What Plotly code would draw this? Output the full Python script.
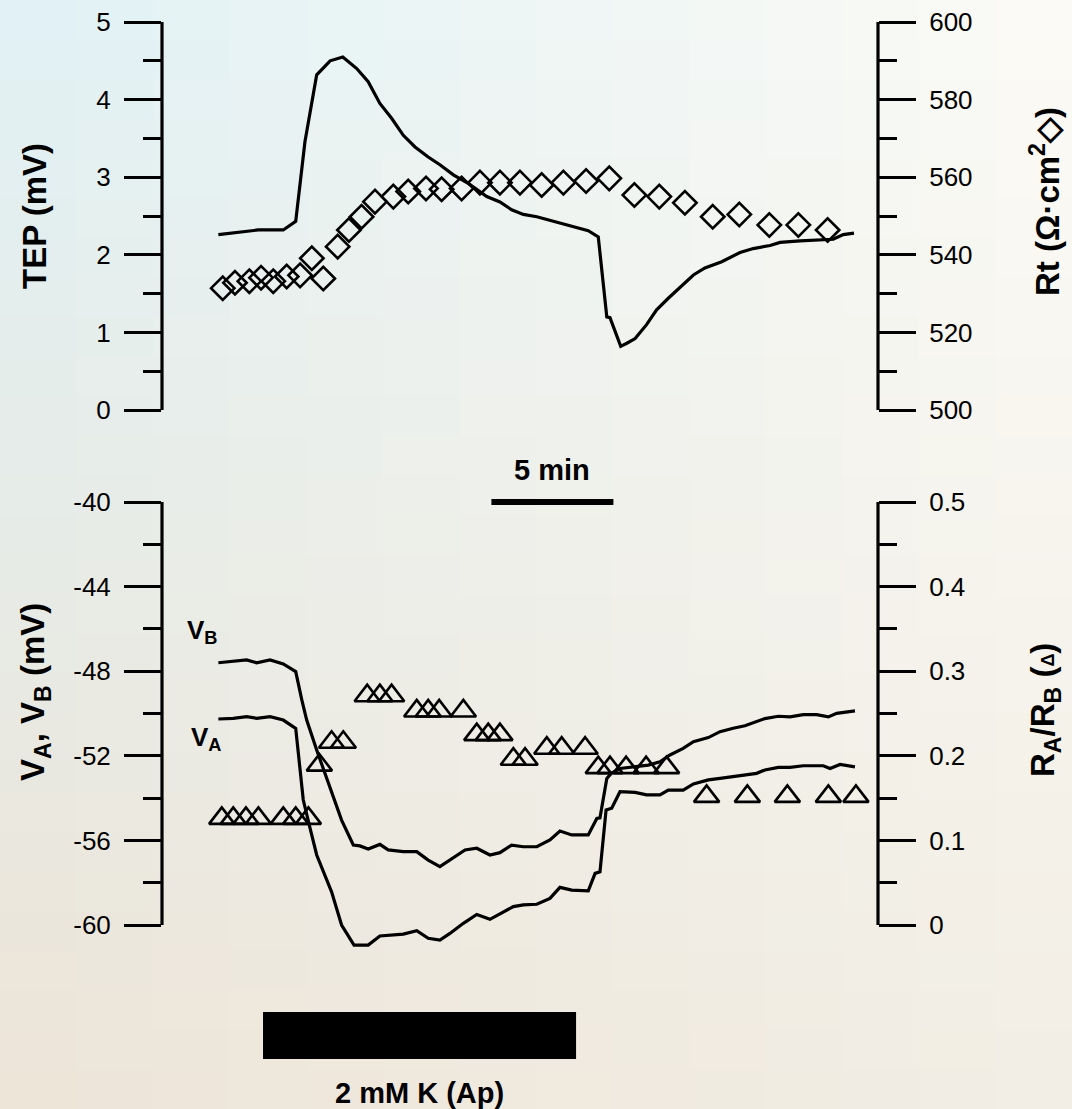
import plotly.graph_objects as go

# ---------------- data (time in minutes) ----------------
tep_t = [2.31, 2.86, 3.95, 4.97, 5.48, 5.86, 6.34, 6.89, 7.41, 7.98, 8.45, 8.93, 9.41, 9.89, 10.37,
         10.91, 11.39, 11.94, 12.55, 13.31, 13.85, 14.33, 14.81, 15.36, 16.38, 17.00, 17.47, 17.88,
         18.23, 18.36, 18.80, 19.05, 19.39, 19.86, 20.27, 20.75, 21.30, 21.78, 22.25, 22.94, 23.69,
         24.23, 24.92, 25.33, 26.15, 27.51, 27.92, 28.36]
tep_v = [2.26, 2.28, 2.32, 2.32, 2.43, 3.46, 4.32, 4.50, 4.55, 4.40, 4.23, 3.95, 3.76, 3.54, 3.39,
         3.26, 3.16, 3.03, 2.92, 2.75, 2.68, 2.58, 2.52, 2.49, 2.40, 2.35, 2.31, 2.23,
         1.20, 1.19, 0.82, 0.86, 0.92, 1.10, 1.29, 1.44, 1.60, 1.74, 1.83, 1.91, 2.03,
         2.08, 2.12, 2.16, 2.18, 2.20, 2.26, 2.28]

rt_t = [2.49, 2.99, 3.58, 4.06, 4.56, 5.11, 5.66, 6.14, 6.61, 7.20, 7.66, 8.18, 8.73, 9.48, 10.09,
        10.82, 11.46, 12.28, 13.03, 13.85, 14.67, 15.56, 16.45, 17.38, 18.33, 19.36, 20.38, 21.43,
        22.57, 23.66, 24.89, 26.08, 27.28]
rt_v = [531.4, 532.8, 533.2, 534.1, 533.2, 534.4, 534.7, 539.1, 533.9, 542.1, 546.4, 549.8, 553.7,
        555.0, 556.3, 557.1, 556.9, 557.1, 558.6, 558.6, 558.6, 558.0, 558.6, 559.0, 559.7, 555.4,
        555.0, 553.4, 549.8, 550.4, 547.7, 547.7, 546.4]

vb_t = [2.31, 2.92, 3.47, 3.88, 4.43, 4.97, 5.48, 5.73, 5.93, 6.34, 6.89, 7.36, 7.84, 8.11, 8.45,
        8.93, 9.27, 9.89, 10.44, 10.91, 11.39, 11.80, 12.42, 12.90, 13.44, 13.85, 14.33, 14.81,
        15.36, 15.90, 16.31, 16.79, 17.47, 17.82, 17.95, 18.23, 18.43, 18.77, 19.46, 19.93, 20.41,
        20.82, 21.36, 21.78, 22.39, 22.87, 23.41, 23.89, 24.71, 25.26, 25.74, 26.28, 26.83, 27.31,
        27.65, 28.06, 28.40]
vb_v = [-47.60, -47.55, -47.47, -47.60, -47.47, -47.66, -48.02, -49.36, -50.31, -51.73, -53.46,
        -55.04, -56.22, -56.26, -56.41, -56.19, -56.45, -56.53, -56.53, -56.93, -57.24, -56.93,
        -56.45, -56.37, -56.69, -56.58, -56.22, -56.30, -56.30, -55.98, -55.56, -55.74, -55.74,
        -54.96, -54.93, -53.07, -52.81, -52.60, -52.52, -52.44, -52.28, -51.96, -51.65, -51.33,
        -51.14, -50.86, -50.70, -50.58, -50.24, -50.13, -50.16, -50.05, -50.05, -50.16, -49.99,
        -49.91, -49.88]

va_t = [2.31, 2.92, 3.47, 3.88, 4.43, 4.97, 5.48, 5.66, 5.79, 6.07, 6.34, 6.95, 7.36, 7.87, 8.45,
        8.93, 9.89, 10.44, 10.91, 11.39, 11.80, 12.35, 12.90, 13.44, 13.92, 14.40, 14.81, 15.36,
        15.90, 16.31, 16.79, 17.47, 17.75, 17.95, 18.20, 18.43, 18.77, 19.39, 19.86, 20.41, 20.75,
        21.36, 21.78, 22.39, 22.87, 23.89, 24.37, 24.71, 25.26, 25.74, 26.28, 27.10, 27.38, 27.79,
        28.40]
va_v = [-50.26, -50.23, -50.15, -50.23, -50.15, -50.31, -50.70, -52.67, -54.09, -55.43, -56.69,
        -58.43, -60.00, -60.95, -60.95, -60.52, -60.43, -60.27, -60.63, -60.71, -60.40, -59.92,
        -59.50, -59.73, -59.45, -59.13, -59.05, -59.02, -58.74, -58.22, -58.35, -58.38, -57.56,
        -57.48, -54.56, -54.48, -53.70, -53.73, -53.85, -53.85, -53.62, -53.62, -53.33, -53.14,
        -53.07, -52.91, -52.83, -52.67, -52.55, -52.55, -52.47, -52.47, -52.60, -52.41, -52.52]

ratio_t = [2.45, 2.92, 3.44, 3.95, 4.97, 5.48, 6.00, 6.45, 6.95, 7.43, 8.41, 8.93, 9.41, 10.44,
           10.91, 11.36, 12.35, 12.90, 13.37, 13.85, 14.40, 14.88, 15.77, 16.38, 17.34, 17.88,
           18.36, 19.02, 19.84, 20.68, 22.32, 23.99, 25.63, 27.31, 28.44]
ratio_v = [0.126, 0.126, 0.126, 0.126, 0.126, 0.126, 0.126, 0.189, 0.216, 0.216, 0.271, 0.271,
           0.271, 0.253, 0.253, 0.253, 0.253, 0.225, 0.225, 0.225, 0.196, 0.196, 0.209, 0.209,
           0.209, 0.186, 0.186, 0.186, 0.186, 0.186, 0.152, 0.152, 0.152, 0.152, 0.152]

tep_ticks = [0, 1, 2, 3, 4, 5]
tep_ticktext = ["0", "1", "2", "3", "4", "5"]
rt_ticks = [500, 520, 540, 560, 580, 600]
rt_ticktext = ["500", "520", "540", "560", "580", "600"]
v_ticks = [-60, -56, -52, -48, -44, -40]
v_ticktext = ["-60", "-56", "-52", "-48", "-44", "-40"]
ratio_ticks = [0, 0.1, 0.2, 0.3, 0.4, 0.5]
ratio_ticktext = ["0", "0.1", "0.2", "0.3", "0.4", "0.5"]

k_start, k_end = 4.14, 16.97          # 2 mM K (Ap) application, min
scale_start, scale_len = 13.5, 5.0    # 5 min scale bar

# ---------------- figure ----------------
W, H = 1072, 1109
FONT = "Liberation Sans, Arial, sans-serif"
X0, X1 = 162 / W, 878 / W
TOP = [(H - 410) / H, (H - 22) / H]
# bottom panel: plot area extended below -60 so the V_A trace is not clipped
V_EXT = 1.5
PX_PER_MV = (925 - 502) / 20
BOT = [(H - (925 + V_EXT * PX_PER_MV)) / H, (H - 502) / H]
XR = [0, 716 / 24.4]
LW = 3.2

fig = go.Figure()
line = dict(color="black", width=3.2)
fig.add_trace(go.Scatter(x=tep_t, y=tep_v, mode="lines", line=line, xaxis="x", yaxis="y",
                         showlegend=False))
fig.add_trace(go.Scatter(x=rt_t, y=rt_v, mode="markers", xaxis="x", yaxis="y2",
                         marker=dict(symbol="diamond-open", size=18, color="black",
                                     line=dict(width=2.6, color="black")),
                         cliponaxis=False, showlegend=False))
fig.add_trace(go.Scatter(x=vb_t, y=vb_v, mode="lines", line=line, xaxis="x2", yaxis="y3",
                         showlegend=False))
fig.add_trace(go.Scatter(x=va_t, y=va_v, mode="lines", line=line, xaxis="x2", yaxis="y3",
                         showlegend=False))
fig.add_trace(go.Scatter(x=ratio_t, y=ratio_v, mode="markers", xaxis="x2", yaxis="y4",
                         marker=dict(symbol="triangle-up-open", size=22, color="black",
                                     line=dict(width=2.6, color="black")),
                         cliponaxis=False, showlegend=False))

tickfont = dict(family=FONT, size=26, color="black")
def yax(rng, dom, tv, tt, dminor, tick0, side="left", overlay=None, anchor="x"):
    d = dict(range=rng, domain=dom, tickvals=tv, ticktext=tt, showgrid=False, zeroline=False,
             showline=False, ticks="outside", ticklen=37, automargin=False,
             tickwidth=LW, tickcolor="black", tickfont=tickfont, side=side, anchor=anchor,
             ticklabelstandoff=8, fixedrange=True,
             minor=dict(dtick=dminor, tick0=tick0, ticklen=18, tickwidth=LW,
                        tickcolor="black", ticks="outside", showgrid=False))
    if overlay:
        d["overlaying"] = overlay
    return d

fig.update_layout(
    template="none",
    width=W, height=H,
    font=dict(family=FONT, color="black"),
    margin=dict(l=0, r=0, t=0, b=0, pad=0),
    paper_bgcolor="#f1efe6", plot_bgcolor="rgba(0,0,0,0)",
    xaxis=dict(domain=[X0, X1], range=XR, visible=False, anchor="y", automargin=False),
    xaxis2=dict(domain=[X0, X1], range=XR, visible=False, anchor="y3", automargin=False),
    yaxis=yax([0, 5], TOP, tep_ticks, tep_ticktext, 0.5, 0),
    yaxis2=yax([500, 600], TOP, rt_ticks, rt_ticktext, 10, 500, side="right", overlay="y"),
    yaxis3=yax([-60 - V_EXT, -40], BOT, v_ticks, v_ticktext, 2, -60, anchor="x2"),
    yaxis4=yax([0 - V_EXT / 40, 0.5], BOT, ratio_ticks, ratio_ticktext, 0.05, 0,
               side="right", overlay="y3", anchor="x2"),
    showlegend=False,
)

# background gradient (decorative)
TL, TR, BL, BR = (224, 241, 245), (252, 251, 246), (237, 228, 215), (242, 238, 229)
NX, NY = 14, 28
shapes = []
for i in range(NX):
    for j in range(NY):
        u = (i + 0.5) / NX
        v = (j + 0.5) / NY  # 0 top, 1 bottom
        c = [round((1 - u) * (1 - v) * TL[k] + u * (1 - v) * TR[k] + (1 - u) * v * BL[k] + u * v * BR[k])
             for k in range(3)]
        shapes.append(dict(type="rect", xref="paper", yref="paper", x0=i / NX, x1=(i + 1) / NX + 0.002,
                           y0=1 - (j + 1) / NY - 0.002, y1=1 - j / NY, line=dict(width=0),
                           fillcolor=f"rgb({c[0]},{c[1]},{c[2]})", layer="below"))
# axis lines spanning exactly the labelled ranges
axl = dict(color="black", width=LW)
shapes += [
    dict(type="line", xref="paper", yref="y", x0=X0, x1=X0, y0=tep_ticks[0], y1=tep_ticks[-1], line=axl),
    dict(type="line", xref="paper", yref="y2", x0=X1, x1=X1, y0=rt_ticks[0], y1=rt_ticks[-1], line=axl),
    dict(type="line", xref="paper", yref="y3", x0=X0, x1=X0, y0=v_ticks[0], y1=v_ticks[-1], line=axl),
    dict(type="line", xref="paper", yref="y4", x0=X1, x1=X1, y0=ratio_ticks[0], y1=ratio_ticks[-1], line=axl),
]
# K application bar and scale bar
shapes.append(dict(type="rect", xref="x2", yref="paper", x0=k_start, x1=k_end,
                   y0=(H - 1059) / H, y1=(H - 1012) / H, fillcolor="black", line=dict(width=0)))
shapes.append(dict(type="line", xref="x2", yref="paper", x0=scale_start, x1=scale_start + scale_len,
                   y0=(H - 502) / H, y1=(H - 502) / H, line=dict(color="black", width=6)))
fig.update_layout(shapes=shapes)

title_font = dict(family=FONT, size=33, color="black")
bold = dict(family=FONT, size=26, color="black")
big = dict(family=FONT, size=29, color="black")
C = dict(xanchor="center", yanchor="middle", showarrow=False)
ann = [
    dict(text="<b>TEP (mV)</b>", xref="paper", yref="paper", x=35 / W, y=(H - 216) / H,
         textangle=-90, font=title_font, **C),
    dict(text="<b>V<sub>A</sub>, V<sub>B</sub> (mV)</b>", xref="paper", yref="paper", x=35 / W,
         y=(H - 692) / H, textangle=-90, font=title_font, **C),
    dict(text="<b>Rt (\u03a9\u00b7cm<sup>2</sup>\u25c7)</b>", xref="paper", yref="paper", x=1045 / W,
         y=(H - 202) / H, textangle=-90, font=title_font, **C),
    dict(text="<b>R<sub>A</sub>/R<sub>B</sub> (<span style='font-size:18px'>\u0394</span>)</b>",
         xref="paper", yref="paper", x=1045 / W, y=(H - 710) / H, textangle=-90, font=title_font,
         **C),
    dict(text="<b>V<sub>B</sub></b>", xref="x2", yref="y3", x=1.64, y=-46.1, font=bold, **C),
    dict(text="<b>V<sub>A</sub></b>", xref="x2", yref="y3", x=1.80, y=-51.16, font=bold, **C),
    dict(text="<b>5 min</b>", xref="x2", yref="paper", x=scale_start + scale_len / 2,
         y=(H - 470) / H, font=big, **C),
    dict(text="<b>2 mM K (Ap)</b>", xref="x2", yref="paper", x=(k_start + k_end) / 2,
         y=(H - 1093) / H, font=big, **C),
]
fig.update_layout(annotations=ann)

fig.write_html("out.html", config={"responsive": False, "displayModeBar": False},
               post_script="document.body.style.margin='0';document.body.style.overflow='hidden';")
